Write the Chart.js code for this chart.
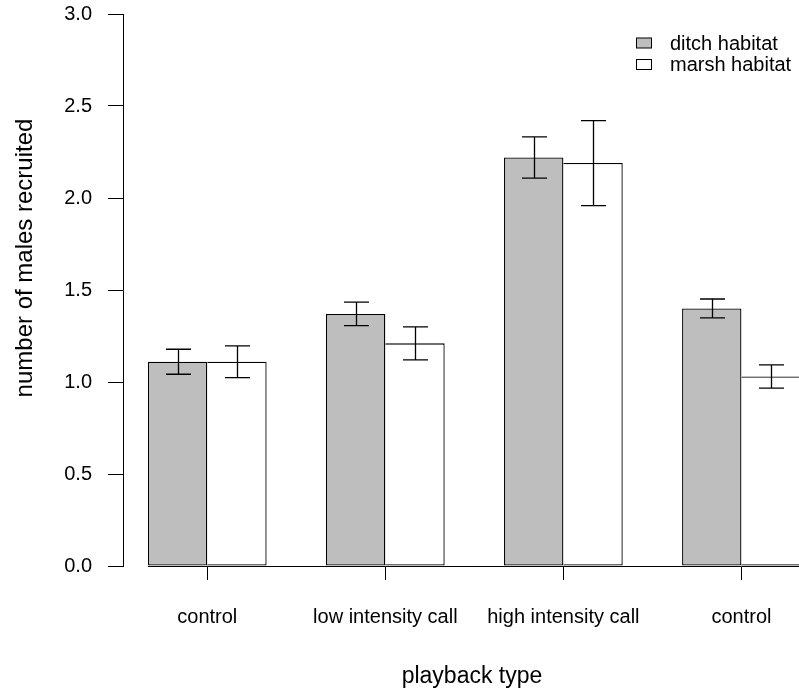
<!DOCTYPE html>
<html>
<head>
<meta charset="utf-8">
<script src="https://cdn.jsdelivr.net/npm/chart.js@4.4.1/dist/chart.umd.min.js"></script>
<style>
  html, body { margin: 0; padding: 0; background: #ffffff; }
  canvas { display: block; }
</style>
</head>
<body>
<canvas id="c" width="799" height="695"></canvas>
<script>
// ---------------- data ----------------
const categories   = ['control', 'low intensity call', 'high intensity call', 'control'];
const seriesNames  = ['ditch habitat', 'marsh habitat'];
const ditchMeans   = [1.11, 1.37, 2.22, 1.40];
const ditchErrors  = [0.068, 0.064, 0.112, 0.051];
const marshMeans   = [1.11, 1.21, 2.19, 1.03];
const marshErrors  = [0.086, 0.090, 0.231, 0.063];
const yTickValues  = [0, 0.5, 1.0, 1.5, 2.0, 2.5, 3.0];
const xAxisTitle   = 'playback type';
const yAxisTitle   = 'number of males recruited';

// ---------------- layout helpers ----------------
const FONT = '"Liberation Sans", Arial, Helvetica, sans-serif';
// R barplot style positions: each group = 1 gap unit + 2 bars of width 1
const groupPos = categories.map((_, i) => 2 + 3 * i);

const errorBarPlugin = {
  id: 'errorBars',
  afterDatasetsDraw(chart) {
    const { ctx, scales: { y } } = chart;
    ctx.save();
    ctx.strokeStyle = '#000';
    ctx.lineWidth = 1.3;
    chart.data.datasets.forEach((ds, di) => {
      const meta = chart.getDatasetMeta(di);
      meta.data.forEach((bar, i) => {
        const v = ds.data[i].y, e = ds.errors[i];
        const x = Math.round(bar.x) + 0.5;
        const yt = y.getPixelForValue(v + e);
        const yb = y.getPixelForValue(v - e);
        const cap = 12.5;
        ctx.beginPath();
        ctx.moveTo(x, yt); ctx.lineTo(x, yb);
        ctx.moveTo(x - cap, yt); ctx.lineTo(x + cap, yt);
        ctx.moveTo(x - cap, yb); ctx.lineTo(x + cap, yb);
        ctx.stroke();
      });
    });
    ctx.restore();
  },
  afterDraw(chart) {
    const { ctx, chartArea, scales: { x, y } } = chart;
    ctx.save();
    // baseline along y = 0, starting at the first bar edge
    const by = Math.round(y.getPixelForValue(0)) + 0.5;
    ctx.strokeStyle = '#000';
    ctx.lineWidth = 1;
    ctx.beginPath();
    ctx.moveTo(x.getPixelForValue(1), by);
    ctx.lineTo(chartArea.right + 40, by);
    ctx.stroke();

    // legend (top right, inside plot)
    ctx.font = `20px ${FONT}`;
    ctx.textBaseline = 'middle';
    ctx.textAlign = 'left';
    chart.data.datasets.forEach((ds, i) => {
      const cy = 44 + i * 21.5;
      ctx.fillStyle = ds.backgroundColor;
      ctx.fillRect(636.5, cy - 6, 15, 10);
      ctx.strokeStyle = '#000';
      ctx.lineWidth = 1;
      ctx.strokeRect(636.5, cy - 6, 15, 10);
      ctx.fillStyle = '#000';
      ctx.fillText(ds.label, 670, cy);
    });

    // axis titles
    ctx.fillStyle = '#000';
    ctx.textAlign = 'center';
    ctx.textBaseline = 'middle';
    ctx.font = `23px ${FONT}`;
    ctx.fillText(xAxisTitle, 472, 677);
    ctx.save();
    ctx.translate(25, 258);
    ctx.rotate(-Math.PI / 2);
    ctx.font = `24px ${FONT}`;
    ctx.fillText(yAxisTitle, 0, 0);
    ctx.restore();
    ctx.restore();
  }
};

const barCommon = {
  borderColor: '#000000',
  borderWidth: 1.3,
  categoryPercentage: 2 / 3,
  barPercentage: 1
};

new Chart(document.getElementById('c'), {
  type: 'bar',
  data: {
    datasets: [
      Object.assign({
        label: seriesNames[0],
        data: groupPos.map((gx, i) => ({ x: gx, y: ditchMeans[i] })),
        errors: ditchErrors,
        backgroundColor: '#bebebe',
        borderSkipped: false
      }, barCommon),
      Object.assign({
        label: seriesNames[1],
        data: groupPos.map((gx, i) => ({ x: gx, y: marshMeans[i] })),
        errors: marshErrors,
        backgroundColor: '#ffffff',
        borderSkipped: 'left'
      }, barCommon)
    ]
  },
  options: {
    responsive: false,
    animation: false,
    devicePixelRatio: 1,
    layout: { padding: { top: 14, right: 0, bottom: 0, left: 0 } },
    plugins: {
      legend: { display: false },
      tooltip: { enabled: false },
      title: { display: false }
    },
    scales: {
      x: {
        type: 'linear',
        min: 0.58,
        max: 11.97,
        offset: false,
        afterBuildTicks: s => { s.ticks = groupPos.map(v => ({ value: v })); },
        afterFit: s => { s.height = 129; s.paddingLeft = 0; s.paddingRight = 0; },
        ticks: {
          autoSkip: false, maxRotation: 0, minRotation: 0, padding: 25,
          color: '#000', font: { family: FONT, size: 20 },
          callback: (v, i) => categories[i]
        },
        grid: { display: true, offset: false, drawOnChartArea: false, drawTicks: true, tickLength: 14, color: '#000', lineWidth: 1 },
        border: { display: false }
      },
      y: {
        type: 'linear',
        min: 0,
        max: 3,
        afterBuildTicks: s => { s.ticks = yTickValues.map(v => ({ value: v })); },
        afterFit: s => { s.width = 123; s.paddingTop = 0; s.paddingBottom = 0; },
        ticks: {
          padding: 16, color: '#000', font: { family: FONT, size: 20 },
          callback: v => Number(v).toFixed(1)
        },
        grid: { display: true, offset: false, drawOnChartArea: false, drawTicks: true, tickLength: 15, color: '#000', lineWidth: 1 },
        border: { display: true, color: '#000', width: 1 }
      }
    }
  },
  plugins: [errorBarPlugin]
});
</script>
</body>
</html>
